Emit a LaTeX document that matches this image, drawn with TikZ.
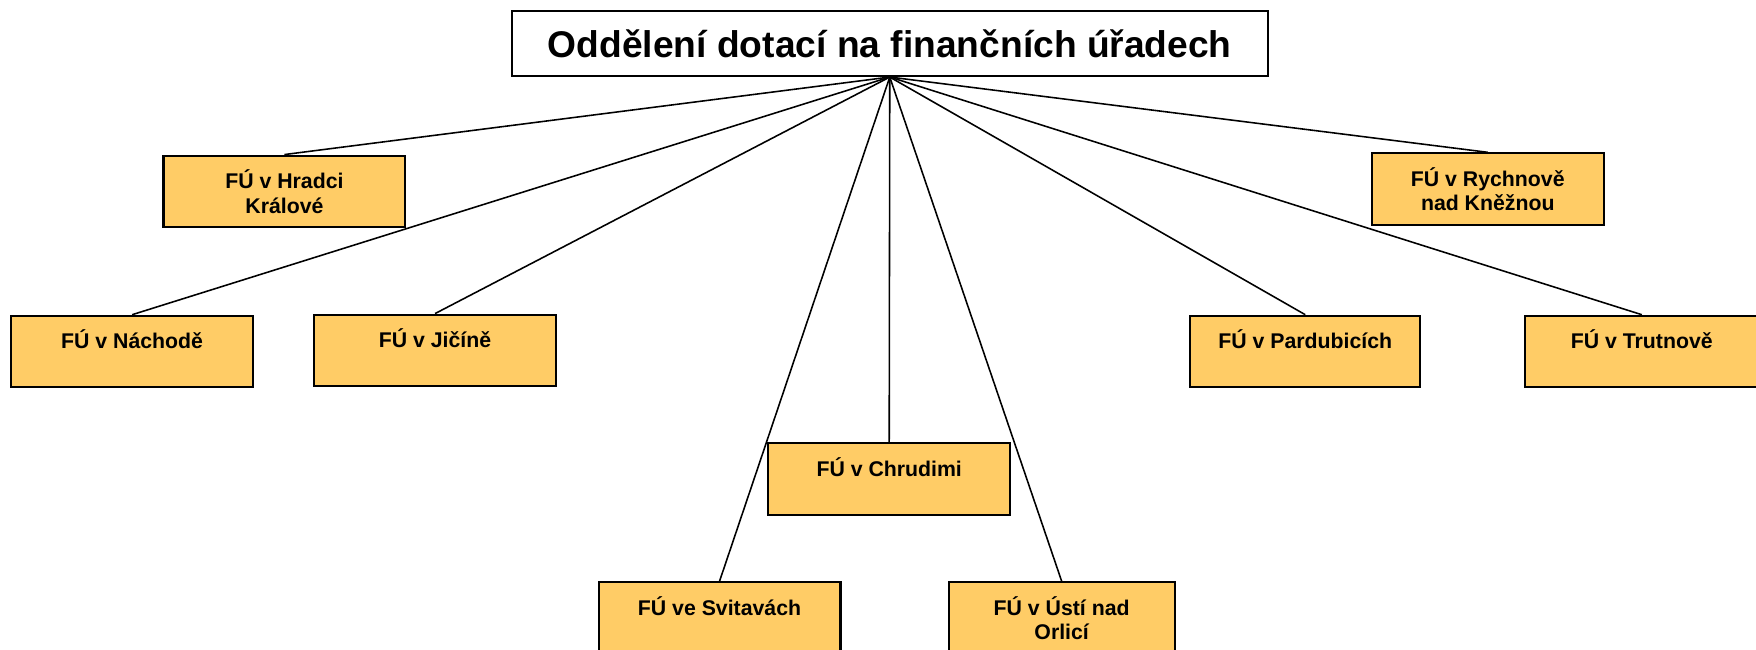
\documentclass[tikz,border=0pt]{standalone}
\usepackage{fontspec}
\setmainfont{Liberation Sans}
\begin{document}
\begin{tikzpicture}[x=0.5pt,y=-0.5pt]
	\tikzstyle{fubox} = [draw,fill=fuorange,line width=0.9pt,inner sep=0pt,minimum width=108pt,minimum height=32pt,align=center,anchor=north,font=\fontsize{9.5}{11}\selectfont\bfseries]
	\tikzstyle{headbox} = [draw,fill=white,line width=0.9pt,inner sep=0pt,minimum width=337.5pt,minimum height=29pt,anchor=north,font=\fontsize{16.6}{19}\selectfont\bfseries]
	\tikzstyle{fuedge} = [line width=0.7pt]

	\definecolor{fuorange}{RGB}{255,204,102}
	\useasboundingbox (0,0) rectangle (1568,580);

	% NODES %
	\node[headbox] (OU) at (794.5,9) {Oddělení dotací na finančních úřadech};

	\node[fubox] (HK) at (254,138) {FÚ v Hradci\\Králové};
	\node[fubox,minimum width=103.5pt] (RK) at (1328.5,136) {FÚ v Rychnově\\nad Kněžnou};

	\node[fubox] (NA) at (118,281) {FÚ v Náchodě\\\mbox{}};
	\node[fubox] (JI) at (388.5,280) {FÚ v Jičíně\\\mbox{}};
	\node[fubox,minimum width=102.5pt] (PA) at (1165.5,281) {FÚ v Pardubicích\\\mbox{}};
	\node[fubox,minimum width=104pt] (TU) at (1466,281) {FÚ v Trutnově\\\mbox{}};

	\node[fubox] (CR) at (794,395) {FÚ v Chrudimi\\\mbox{}};

	\node[fubox] (SV) at (642.5,519) {FÚ ve Svitavách\\\mbox{}};
	\node[fubox,minimum width=101pt] (UO) at (948,519) {FÚ v Ústí nad\\Orlicí};

	% EDGES %
	\draw[fuedge] (OU.south) edge (HK.north);
	\draw[fuedge] (OU.south) edge (RK.north);
	\draw[fuedge] (OU.south) edge (NA.north);
	\draw[fuedge] (OU.south) edge (JI.north);
	\draw[fuedge] (OU.south) edge (PA.north);
	\draw[fuedge] (OU.south) edge (TU.north);
	\draw[fuedge] (OU.south) edge (CR.north);
	\draw[fuedge] (OU.south) edge (SV.north);
	\draw[fuedge] (OU.south) edge (UO.north);
\end{tikzpicture}
\end{document}
